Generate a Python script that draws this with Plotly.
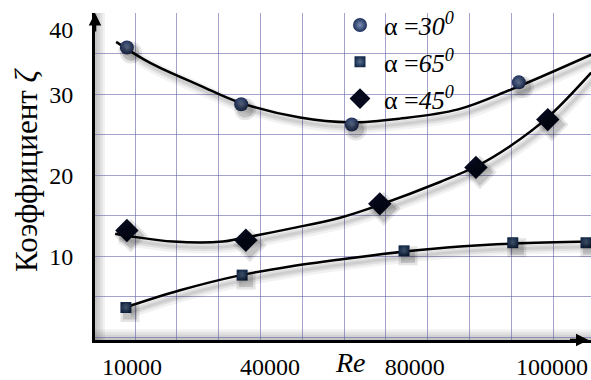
import plotly.graph_objects as go

# ---------------- data ----------------
series_names = ["α =<i>30</i><sup><i>0</i></sup>",
                "α =<i>65</i><sup><i>0</i></sup>",
                "α =<i>45</i><sup><i>0</i></sup>"]

# measured points
re_30 = [8900, 33400, 57100, 92900]
zeta_30 = [35.8, 28.8, 26.3, 31.5]

re_65 = [8700, 33600, 68300, 91600, 107300]
zeta_65 = [3.7, 7.7, 10.7, 11.7, 11.7]

re_45 = [8900, 34400, 63100, 83700, 99100]
zeta_45 = [13.2, 12.0, 16.5, 21.0, 26.9]

# approximating curves (samples)
curve_re_30 = [6600, 13900, 24600, 33100, 46000, 56700, 67400, 79900, 91200, 108400]
curve_zeta_30 = [36.5, 33.9, 31.1, 29.0, 27.15, 26.56, 27.02, 28.16, 30.61, 34.91]

curve_re_45 = [6400, 10200, 18800, 29500, 33100, 43900, 54600, 63100, 76000, 83900, 91000, 99100, 108400]
curve_zeta_45 = [12.82, 12.45, 11.84, 11.84, 12.21, 13.44, 14.79, 16.38, 19.2, 21.17, 23.62, 27.18, 32.7]

curve_re_65 = [8700, 20300, 33100, 43900, 54600, 68500, 80300, 91900, 108400]
curve_zeta_65 = [3.74, 5.83, 7.67, 8.77, 9.63, 10.61, 11.23, 11.6, 11.84]

x_tick_vals = [10000, 39600, 70600, 100000]
x_tick_text = ["10000", "40000", "80000", "100000"]
y_tick_vals = [38, 30, 20, 10]
y_tick_text = ["40", "30", "20", "10"]

# ---------------- layout geometry ----------------
X_RANGE = [2071, 108364]
Y_RANGE = [-0.31, 40.06]
PX_X = 214.3     # Re per pixel
PX_Y = 1 / 8.15  # zeta per pixel
SHADOW_DX, SHADOW_DY = 4, 5

SERIF = "Liberation Serif"
GRID = "rgba(100,100,170,0.6)"

fig = go.Figure()

marker_styles = [
    dict(symbol="circle", size=14, color="#1d2d58",
         gradient=dict(type="radial", color="#7d92b8")),
    dict(symbol="square", size=11, color="#15294a",
         gradient=dict(type="radial", color="#56708f")),
    dict(symbol="diamond", size=18, color="#060a1c"),
]
points = [(re_30, zeta_30), (re_65, zeta_65), (re_45, zeta_45)]
curves = [(curve_re_30, curve_zeta_30), (curve_re_65, curve_zeta_65), (curve_re_45, curve_zeta_45)]

# curves
for cx, cy in curves:
    fig.add_trace(go.Scatter(x=cx, y=cy, mode="lines",
                             line=dict(color="black", width=2.5, shape="spline", smoothing=1.0),
                             showlegend=False, hoverinfo="skip"))

# points (legend)
for (px, py), ms, name in zip(points, marker_styles, series_names):
    fig.add_trace(go.Scatter(x=px, y=py, mode="markers", name=name,
                             marker=dict(line=dict(width=0), **ms)))

# soft shadows (same data on a slightly shifted overlay axis pair)
for (cx, cy), (px, py), ms in zip(curves, points, marker_styles):
    for w, a in [(12, 0.05), (7, 0.07), (3, 0.08)]:
        fig.add_trace(go.Scatter(x=cx, y=cy, mode="lines", xaxis="x2", yaxis="y2",
                                 line=dict(color=f"rgba(0,0,0,{a})", width=w, shape="spline", smoothing=1.0),
                                 showlegend=False, hoverinfo="skip"))
    for s, a in [(ms["size"] + 8, 0.10), (ms["size"] + 3, 0.15)]:
        fig.add_trace(go.Scatter(x=px, y=py, mode="markers", xaxis="x2", yaxis="y2",
                                 marker=dict(symbol=ms["symbol"], size=s, color=f"rgba(0,0,0,{a})"),
                                 showlegend=False, hoverinfo="skip"))

fig.update_layout(
    width=591, height=380,
    margin=dict(l=95, r=0, t=13, b=38),
    paper_bgcolor="white", plot_bgcolor="white",
    font=dict(family=SERIF, size=24, color="black"),
    showlegend=True,
    legend=dict(x=(336 - 95) / 496, y=1.035, xanchor="left", yanchor="top",
                bgcolor="rgba(0,0,0,0)", font=dict(family=SERIF, size=26),
                tracegroupgap=0, itemwidth=38),
    xaxis=dict(range=X_RANGE, showgrid=False, zeroline=False,
               showline=True, linecolor="black", linewidth=3,
               tickmode="array", tickvals=x_tick_vals, ticktext=x_tick_text,
               ticks="", ticklabelstandoff=3,
               tickfont=dict(family=SERIF, size=24),
               minor=dict(tickmode="linear", tick0=10643, dtick=8958, showgrid=True,
                          gridcolor=GRID, gridwidth=1, ticks="")),
    yaxis=dict(range=Y_RANGE, showgrid=False, zeroline=False,
               showline=True, linecolor="black", linewidth=3,
               tickmode="array", tickvals=y_tick_vals, ticktext=y_tick_text,
               ticks="", ticklabelstandoff=14,
               tickfont=dict(family=SERIF, size=24),
               minor=dict(tickmode="linear", tick0=0, dtick=5, showgrid=True,
                          gridcolor=GRID, gridwidth=1, ticks="")),
    xaxis2=dict(overlaying="x", range=[X_RANGE[0] - SHADOW_DX * PX_X, X_RANGE[1] - SHADOW_DX * PX_X],
                visible=False),
    yaxis2=dict(overlaying="y", range=[Y_RANGE[0] + SHADOW_DY * PX_Y, Y_RANGE[1] + SHADOW_DY * PX_Y],
                visible=False),
)

# inner frame shadows
shapes = []
for i in range(4):
    shapes.append(dict(type="rect", xref="paper", yref="paper", x0=0, x1=1,
                       y0=0, y1=0.008 * (i + 1), line=dict(width=0),
                       fillcolor="rgba(0,0,0,0.06)", layer="below"))
    shapes.append(dict(type="rect", xref="paper", yref="paper", x0=0, x1=0.005 * (i + 1),
                       y0=0, y1=1, line=dict(width=0),
                       fillcolor="rgba(0,0,0,0.06)", layer="below"))
fig.update_layout(shapes=shapes)

# titles and axis arrows
fig.add_annotation(text="Коэффициент <i>ζ</i>", xref="paper", yref="paper",
                   x=(27 - 95) / 496, y=0.52, textangle=-90, showarrow=False,
                   xanchor="center", yanchor="middle", font=dict(family=SERIF, size=31))
fig.add_annotation(text="<i>Re</i>", xref="paper", yref="paper",
                   x=(350 - 95) / 496, y=(342 - 365) / 329, showarrow=False,
                   xanchor="center", yanchor="middle", font=dict(family=SERIF, size=28))
fig.add_annotation(x=0, y=1.0, xref="paper", yref="paper", ax=0, ay=20,
                   showarrow=True, arrowhead=2, arrowsize=1, arrowwidth=2.5, arrowcolor="black", text="")
fig.add_annotation(x=0.995, y=0, xref="paper", yref="paper", ax=-20, ay=0,
                   showarrow=True, arrowhead=2, arrowsize=1, arrowwidth=2.5, arrowcolor="black", text="")

fig.write_html("out.html", config={"displayModeBar": False},
               post_script="document.body.style.margin='0';")
